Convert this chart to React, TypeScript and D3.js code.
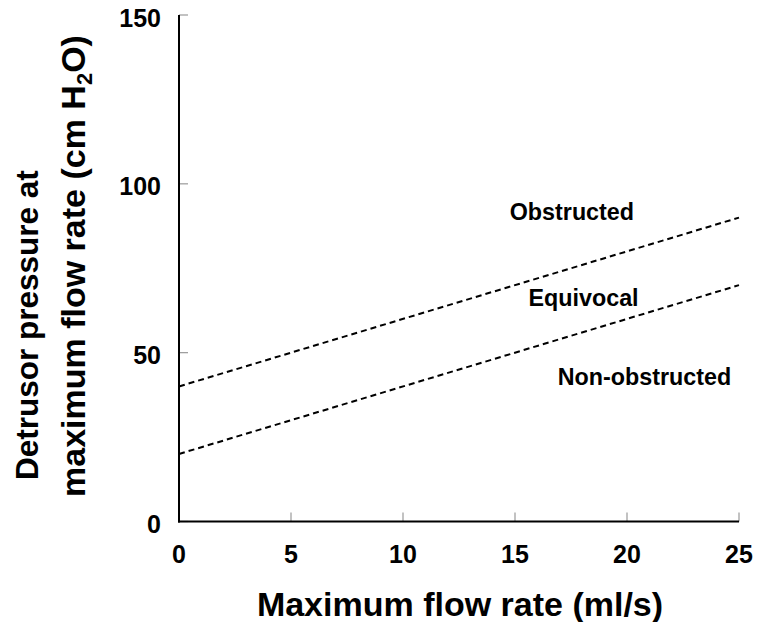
import React from "react";
import * as d3 from "d3";

const xTicks = [0, 5, 10, 15, 20, 25];
const yTicks = [0, 50, 100, 150];
// Boundary lines: [flow rate, detrusor pressure]
const upperLine: [number, number][] = [[0, 40], [25, 90]];
const lowerLine: [number, number][] = [[0, 20], [25, 70]];
const zoneLabels = ["Obstructed", "Equivocal", "Non-obstructed"];
// label anchor (flow rate, pressure at baseline)
const zoneLabelPos: [number, number][] = [[17.54, 89.3], [18.06, 63.8], [20.78, 40.3]];

export default function App() {
  const W = 757, H = 622;
  const x = d3.scaleLinear().domain([0, 25]).range([179, 739]);
  const y = d3.scaleLinear().domain([0, 150]).range([521.5, 15]);
  const line = d3.line<[number, number]>().x(d => x(d[0])).y(d => y(d[1]));
  const font = "Liberation Sans, Arial, sans-serif";

  return (
    <svg width={W} height={H} style={{ position: "absolute", left: 0, top: 0, background: "#fff" }}
      fontFamily={font} fontWeight="bold">
      {/* inward gray ticks */}
      {yTicks.map(t => (
        <line key={"yt" + t} x1={x(0)} x2={x(0) + 9} y1={y(t)} y2={y(t)} stroke="#999" strokeWidth={1.2} />
      ))}
      {xTicks.map(t => (
        <line key={"xt" + t} x1={x(t)} x2={x(t)} y1={y(0)} y2={y(0) - 9} stroke="#999" strokeWidth={1.2} />
      ))}
      {/* axes */}
      <line x1={x(0)} x2={x(0)} y1={y(150)} y2={y(0) + 1} stroke="#000" strokeWidth={2} />
      <line x1={x(0) - 1} x2={x(25)} y1={y(0)} y2={y(0)} stroke="#000" strokeWidth={2} />
      {/* tick labels */}
      {yTicks.map(t => (
        <text key={"yl" + t} x={161} y={y(t) + 11.5} textAnchor="end" fontSize={25}>{t}</text>
      ))}
      {xTicks.map(t => (
        <text key={"xl" + t} x={x(t)} y={563} textAnchor="middle" fontSize={25}>{t}</text>
      ))}
      {/* boundary lines */}
      <path d={line(upperLine) || ""} fill="none" stroke="#000" strokeWidth={2} strokeDasharray="6,4" />
      <path d={line(lowerLine) || ""} fill="none" stroke="#000" strokeWidth={2} strokeDasharray="6,4" />
      {/* zone labels */}
      {zoneLabels.map((s, i) => (
        <text key={s} x={x(zoneLabelPos[i][0])} y={y(zoneLabelPos[i][1])}
          textAnchor="middle" fontSize={23.3}>{s}</text>
      ))}
      {/* axis titles */}
      <text x={460} y={616} textAnchor="middle" fontSize={34}>Maximum flow rate (ml/s)</text>
      <text transform="translate(38,480) rotate(-90)" textAnchor="start" fontSize={31.5}>Detrusor pressure at</text>
      <text transform="translate(85,497) rotate(-90)" textAnchor="start" fontSize={34}>
        maximum flow rate (cm H<tspan dy={7} fontSize={22}>2</tspan><tspan dy={-7}>O)</tspan>
      </text>
    </svg>
  );
}
